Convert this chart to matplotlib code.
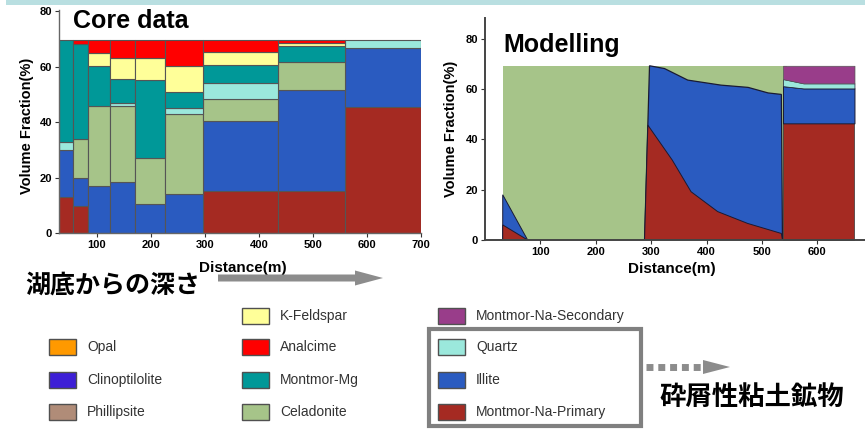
import matplotlib.pyplot as plt
from matplotlib.patches import Rectangle, Polygon

plt.rcParams['font.family'] = ['Liberation Sans', 'DejaVu Sans']
JP = ['Noto Sans CJK JP', 'DejaVu Sans']

W, H = 865, 429

COLORS = {
    'Opal': '#ff9900',
    'Clinoptilolite': '#3d1fd6',
    'Phillipsite': '#b08c78',
    'K-Feldspar': '#ffff99',
    'Analcime': '#ff0000',
    'Montmor-Mg': '#009898',
    'Celadonite': '#a6c489',
    'Montmor-Na-Secondary': '#993d8a',
    'Quartz': '#9be8dc',
    'Illite': '#2a5bc0',
    'Montmor-Na-Primary': '#a52a22',
}

# ---- core data (bar edges in m, layer thickness in vol %) ----
core_edges = [30, 56, 83, 125, 170, 227, 297, 435, 560, 700]
na_primary = [12.9, 9.6, 0, 0, 0, 0, 15.3, 15.3, 45.6]
illite = [16.9, 10.3, 17.1, 18.4, 10.4, 13.9, 25.2, 36.2, 21.3]
celadonite = [0, 14.0, 28.9, 27.3, 16.5, 29.1, 7.8, 10.2, 0]
quartz = [3.2, 0, 0, 1.3, 0, 2.1, 6.0, 0, 2.7]
montmor_mg = [36.5, 34.4, 14.4, 8.6, 28.4, 5.7, 6.4, 5.7, 0]
k_feldspar = [0, 0, 4.7, 7.4, 7.7, 9.4, 4.7, 1.2, 0]
analcime = [0, 1.2, 4.5, 6.6, 6.6, 9.4, 4.2, 1.0, 0]

core_layers = [('Montmor-Na-Primary', na_primary), ('Illite', illite),
               ('Celadonite', celadonite), ('Quartz', quartz),
               ('Montmor-Mg', montmor_mg), ('K-Feldspar', k_feldspar),
               ('Analcime', analcime)]

# ---- modelling (outlines: distance m, vol %) ----
mod_cel_x = [32, 32, 546, 546]
mod_cel_y = [0, 69.3, 69.3, 0]
mod_illite_a_x = [32, 32, 77]
mod_illite_a_y = [0, 18, 0]
mod_primary_a_x = [32, 32, 77]
mod_primary_a_y = [0, 6, 0]
mod_illite_b_x = [288, 297, 324, 366, 426, 475, 511, 535, 537]
mod_illite_b_y = [0, 69.3, 68.2, 63.6, 61.6, 60.7, 58.5, 57.9, 0]
mod_primary_b_x = [288, 294, 338, 372, 420, 474, 535, 537]
mod_primary_b_y = [0, 45.7, 31.8, 19.2, 11.3, 6.6, 2.6, 0]
mod_c_x = [538, 575, 667]
mod_c_primary_top = [46.4, 46.4, 46.4]
mod_c_illite_top = [61.2, 60.3, 60.3]
mod_c_quartz_top = [64.0, 62.3, 62.3]
mod_c_secondary_top = [69.3, 69.3, 69.3]

legend_cols = [
    [None, 'Opal', 'Clinoptilolite', 'Phillipsite'],
    ['K-Feldspar', 'Analcime', 'Montmor-Mg', 'Celadonite'],
    ['Montmor-Na-Secondary', 'Quartz', 'Illite', 'Montmor-Na-Primary'],
]


def px_rect(l, t, r, b):
    return [l / W, 1 - b / H, (r - l) / W, (b - t) / H]


def style_axes(ax, spine_color, spine_lw):
    for s in ['top', 'right']:
        ax.spines[s].set_visible(False)
    for s in ['left', 'bottom']:
        ax.spines[s].set_color(spine_color)
        ax.spines[s].set_linewidth(spine_lw)
    ax.tick_params(direction='out', length=3, width=0.8, labelsize=8, pad=2,
                   colors='#333333', labelcolor='black')
    for lbl in ax.get_xticklabels() + ax.get_yticklabels():
        lbl.set_fontweight('bold')


fig = plt.figure(figsize=(W / 100, H / 100), dpi=100)

# ---------- Core data ----------
ax1 = fig.add_axes(px_rect(59, 10, 421, 233))
lefts = core_edges[:-1]
widths = [b - a for a, b in zip(core_edges[:-1], core_edges[1:])]
bottom = [0.0] * len(lefts)
for name, vals in core_layers:
    idx = [i for i, v in enumerate(vals) if v > 0]
    ax1.bar([lefts[i] for i in idx], [vals[i] for i in idx],
            width=[widths[i] for i in idx], bottom=[bottom[i] for i in idx],
            align='edge', color=COLORS[name], edgecolor='#555555', linewidth=0.8)
    bottom = [b + v for b, v in zip(bottom, vals)]
ax1.set_xlim(30, 700)
ax1.set_ylim(0, 80.5)
ax1.set_xticks([100, 200, 300, 400, 500, 600, 700])
ax1.set_yticks([0, 20, 40, 60, 80])
style_axes(ax1, '#666666', 1.0)
ax1.set_xlabel('Distance(m)', fontsize=11, fontweight='bold')
ax1.xaxis.set_label_coords(0.508, -0.125)
ax1.set_ylabel('Volume Fraction(%)', fontsize=10.5, fontweight='bold')
ax1.yaxis.set_label_coords(-0.068, 0.48)
ax1.text((73 - 59) / 362, (233 - 21) / 223, 'Core data', transform=ax1.transAxes,
         fontsize=18, fontweight='bold', va='center', ha='left')

# ---------- Modelling ----------
ax2 = fig.add_axes(px_rect(485, 18, 865, 240))
ax2.fill(mod_cel_x, mod_cel_y, color=COLORS['Celadonite'], lw=0)
ax2.fill(mod_illite_a_x, mod_illite_a_y, fc=COLORS['Illite'], ec='#1a1a33', lw=0.7)
ax2.fill(mod_primary_a_x, mod_primary_a_y, fc=COLORS['Montmor-Na-Primary'], ec='#1a1a33', lw=0.7)
ax2.fill(mod_illite_b_x, mod_illite_b_y, fc=COLORS['Illite'], ec='#1a1a33', lw=0.9)
ax2.fill(mod_primary_b_x, mod_primary_b_y, fc=COLORS['Montmor-Na-Primary'], ec='#1a1a33', lw=0.7)
zero = [0] * len(mod_c_x)
ax2.fill_between(mod_c_x, zero, mod_c_primary_top, fc=COLORS['Montmor-Na-Primary'], ec='#333333', lw=0.5)
ax2.fill_between(mod_c_x, mod_c_primary_top, mod_c_illite_top, fc=COLORS['Illite'], ec='#1a1a33', lw=0.7)
ax2.fill_between(mod_c_x, mod_c_illite_top, mod_c_quartz_top, fc=COLORS['Quartz'], ec='#1a1a33', lw=0.5)
ax2.fill_between(mod_c_x, mod_c_quartz_top, mod_c_secondary_top, fc=COLORS['Montmor-Na-Secondary'],
                 ec='#555555', lw=0.5)
ax2.set_xlim(0, 686)
ax2.set_ylim(0, 88.3)
ax2.set_xticks([100, 200, 300, 400, 500, 600])
ax2.set_yticks([0, 20, 40, 60, 80])
style_axes(ax2, '#444444', 1.4)
ax2.set_xlabel('Distance(m)', fontsize=11, fontweight='bold')
ax2.xaxis.set_label_coords(0.492, -0.1)
ax2.set_ylabel('Volume Fraction(%)', fontsize=10.5, fontweight='bold')
ax2.yaxis.set_label_coords(-0.07, 0.5)
ax2.text((503 - 485) / 380, (240 - 45) / 222, 'Modelling', transform=ax2.transAxes,
         fontsize=18, fontweight='bold', va='center', ha='left')

# ---------- overlay: band, arrows, legend, notes ----------
ov = fig.add_axes([0, 0, 1, 1])
ov.set_xlim(0, W)
ov.set_ylim(H, 0)
ov.axis('off')

ov.add_patch(Rectangle((6, 0), W - 6, 5, fc='#b9dfe1', ec='none'))

# depth arrow
ov.add_patch(Polygon([(218, 274.5), (355, 274.5), (355, 270.5), (383, 278),
                      (355, 285.5), (355, 281.5), (218, 281.5)],
                     closed=True, fc='#8c8c8c', ec='none'))
ov.text(25, 286, '湖底からの深さ', family=JP, fontsize=18, fontweight='bold',
        va='center', ha='left')

# legend
col_x = [49, 242, 438]
row_y = [316, 347, 380, 412]
for cx, names in zip(col_x, legend_cols):
    for ry, name in zip(row_y, names):
        if name is None:
            continue
        ov.add_patch(Rectangle((cx, ry - 8), 27, 16, fc=COLORS[name], ec='#505050', lw=1))
        ov.text(cx + 38, ry, name, fontsize=10, color='#333333', va='center', ha='left')

# clastic clay minerals box + dotted arrow
ov.add_patch(Rectangle((429, 329), 212, 97, fc='none', ec='#808080', lw=3))
ov.plot([646, 703], [367, 367], color='#8c8c8c', lw=5, linestyle=(0, (1, 0.7)),
        solid_capstyle='butt', dash_capstyle='butt')
ov.add_patch(Polygon([(703, 360), (730, 367), (703, 374)], closed=True, fc='#8c8c8c', ec='none'))
ov.text(660, 397, '砕屑性粘土鉱物', family=JP, fontsize=19, fontweight='bold',
        va='center', ha='left')

fig.savefig('out.png', dpi=100)
